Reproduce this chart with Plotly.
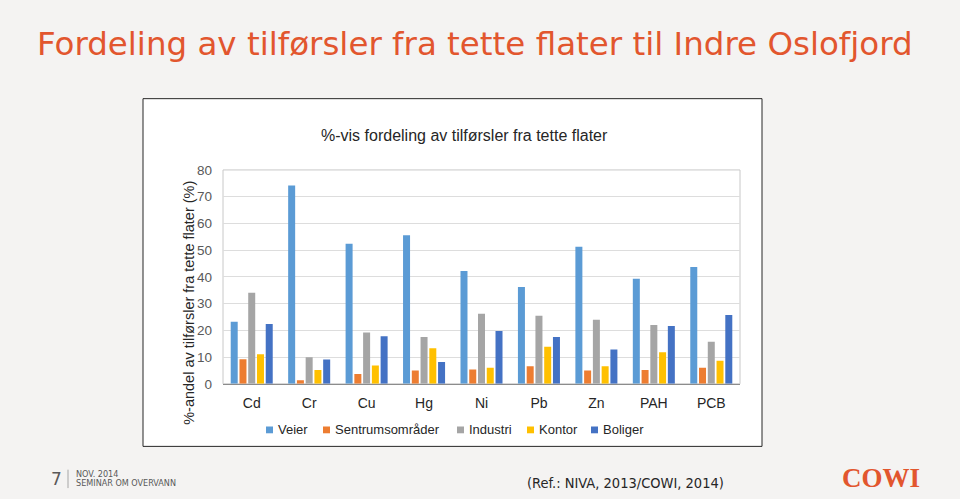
import plotly.graph_objects as go

categories = ["Cd", "Cr", "Cu", "Hg", "Ni", "Pb", "Zn", "PAH", "PCB"]
series_names = ["Veier", "Sentrumsområder", "Industri", "Kontor", "Boliger"]
veier = [23.2, 74.2, 52.4, 55.6, 42.2, 36.2, 51.3, 39.3, 43.7]
sentrum = [9.2, 1.3, 3.7, 5.0, 5.4, 6.6, 5.0, 5.2, 6.0]
industri = [34.1, 9.9, 19.2, 17.5, 26.2, 25.5, 24.0, 22.0, 15.7]
kontor = [11.1, 5.2, 6.9, 13.3, 6.0, 13.9, 6.6, 11.8, 8.6]
boliger = [22.4, 9.1, 17.8, 8.2, 19.8, 17.5, 12.8, 21.6, 25.7]
y_ticks = [0, 10, 20, 30, 40, 50, 60, 70, 80]

colors = ["#5B9BD5", "#ED7D31", "#A5A5A5", "#FFC000", "#4472C4"]
values = [veier, sentrum, industri, kontor, boliger]

W, H = 960, 499
def px(x):
    return x / W
def py(y):
    return 1 - y / H

fig = go.Figure()
for name, vals, c in zip(series_names, values, colors):
    fig.add_trace(go.Bar(x=categories, y=vals, name=name, marker=dict(color=c, line=dict(width=0))))

fig.update_layout(
    width=W, height=H,
    margin=dict(l=0, r=0, t=0, b=0),
    paper_bgcolor="#F4F3F2",
    plot_bgcolor="white",
    barmode="group",
    bargap=0.238,
    bargroupgap=0.2,
    font=dict(family="Liberation Sans, Arial", color="#404040"),
    xaxis=dict(domain=[px(223), px(740)], anchor="y", showgrid=False,
               showline=True, linecolor="#8C8C8C", linewidth=1,
               tickfont=dict(size=14, color="#262626"), ticks="", ticklen=0,
               ticklabelstandoff=6),
    yaxis=dict(domain=[py(388.5), py(168)], range=[0, 80], tickvals=y_ticks,
               showgrid=True, gridcolor="#DDDDDD", gridwidth=1,
               zeroline=False, showline=False,
               tickfont=dict(size=13.5, color="#595959"), ticks="", ticklabelstandoff=10),
    showlegend=False,
)

shapes = [
    # white chart box
    dict(type="rect", xref="paper", yref="paper", x0=px(143), x1=px(762), y0=py(453), y1=py(94.5),
         fillcolor="white", line=dict(color="#262626", width=1), layer="below"),
    # plot area frame
    dict(type="rect", xref="paper", yref="paper", x0=px(223), x1=px(740), y0=py(388.5), y1=py(168),
         fillcolor="rgba(0,0,0,0)", line=dict(color="#C8C8C8", width=1), layer="below"),
    # footer separator
    dict(type="line", xref="paper", yref="paper", x0=px(68), x1=px(68), y0=py(496), y1=py(477),
         line=dict(color="#A6A6A6", width=1)),
]

annotations = [
    dict(text="Fordeling av tilførsler fra tette flater til Indre Oslofjord", x=px(35), y=py(38),
         xanchor="left", yanchor="middle",
         font=dict(family="DejaVu Sans", size=32.5, color="#E2562E")),
    dict(text="%-vis fordeling av tilførsler fra tette flater", x=px(464), y=py(132),
         xanchor="center", yanchor="middle",
         font=dict(size=16, color="#262626")),
    dict(text="%-andel av tilførsler fra tette flater (%)", x=px(189), y=py(305), textangle=-90,
         xanchor="center", yanchor="middle",
         font=dict(size=14.5, color="#262626")),
    dict(text="7", x=px(56), y=py(487), xanchor="center", yanchor="middle",
         font=dict(family="DejaVu Sans", size=17, color="#595959")),
    dict(text="NOV. 2014", x=px(74), y=py(481), xanchor="left", yanchor="middle",
         font=dict(family="DejaVu Sans Condensed, DejaVu Sans", size=9, color="#595959")),
    dict(text="SEMINAR OM OVERVANN", x=px(74), y=py(491), xanchor="left", yanchor="middle",
         font=dict(family="DejaVu Sans Condensed, DejaVu Sans", size=9, color="#595959")),
    dict(text="(Ref.: NIVA, 2013/COWI, 2014)", x=px(625), y=py(491), xanchor="center", yanchor="middle",
         font=dict(family="DejaVu Sans Condensed, DejaVu Sans", size=14.5, color="#262626")),
    dict(text="<b>COWI</b>", x=px(881), y=py(486), xanchor="center", yanchor="middle",
         font=dict(family="Liberation Serif", size=27, color="#E2562E")),
]

# compact legend like the reference
leg_x = [266, 323, 457, 527, 591]
leg_y = 436
for name, c, lx in zip(series_names, colors, leg_x):
    shapes.append(dict(type="rect", xref="paper", yref="paper", x0=px(lx), x1=px(lx + 7),
                       y0=py(leg_y + 3.5), y1=py(leg_y - 3.5), fillcolor=c, line=dict(width=0)))
    annotations.append(dict(text=name, x=px(lx + 10), y=py(leg_y), xanchor="left", yanchor="middle",
                            font=dict(size=13, color="#262626")))

for a in annotations:
    a.update(xref="paper", yref="paper", showarrow=False)

fig.update_layout(shapes=shapes, annotations=annotations)

fig.write_html("out.html")
